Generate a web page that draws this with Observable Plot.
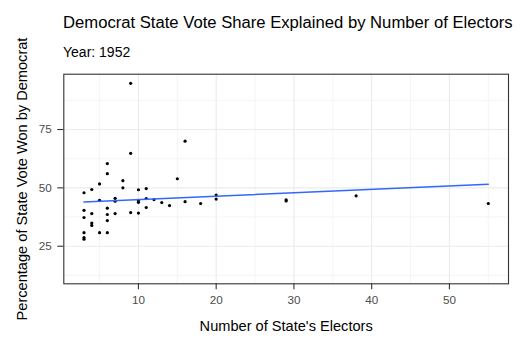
<!DOCTYPE html>
<html>
<head>
<meta charset="utf-8">
<script src="https://cdn.jsdelivr.net/npm/d3@7"></script>
<script src="https://cdn.jsdelivr.net/npm/@observablehq/plot@0.6"></script>
<style>
  html, body { margin: 0; padding: 0; background: #fff; }
  #wrap { position: relative; width: 525px; height: 350px; overflow: hidden; font-family: "Liberation Sans", Arial, sans-serif; }
  .title { position: absolute; left: 63px; top: 13px; font-size: 16.65px; color: #000; white-space: nowrap; line-height: normal; z-index: 2; }
  .subtitle { position: absolute; left: 63px; top: 44px; font-size: 14px; color: #000; white-space: nowrap; line-height: normal; z-index: 2; }
  #chart { position: absolute; left: 0; top: 0; z-index: 1; }
  g[aria-label="x-axis tick"], g[aria-label="y-axis tick"] { stroke: #333333; stroke-width: 1.1px; }
  g[aria-label="x-axis tick label"], g[aria-label="y-axis tick label"] { fill: #4D4D4D; }
</style>
</head>
<body>
<div id="wrap">
  <div id="chart"></div>
  <div class="title">Democrat State Vote Share Explained by Number of Electors</div>
  <div class="subtitle">Year: 1952</div>
</div>
<script>
// Number of electors per state
const electors = [
  3, 3, 3, 3, 3, 3,
  4, 4, 4, 4,
  5, 5, 5,
  6, 6, 6, 6, 6, 6,
  7, 7, 7,
  8, 8,
  9, 9, 9,
  10, 10, 10, 10,
  11, 11, 11,
  12, 13, 14, 15,
  16, 16,
  18,
  20, 20,
  29, 29,
  38, 55
];
// Democrat vote share (%) per state
const demShare = [
  47.9, 40.4, 37.3, 30.8, 28.7, 28.0,
  49.3, 39.0, 34.9, 33.9,
  51.7, 44.7, 30.8,
  60.4, 56.1, 41.3, 38.6, 36.0, 30.8,
  45.5, 44.3, 39.0,
  53.1, 50.0,
  94.8, 64.8, 39.4,
  49.2, 44.6, 43.8, 39.2,
  49.7, 45.4, 41.6,
  45.0, 43.7, 42.4, 53.9,
  70.0, 44.1,
  43.3,
  46.9, 45.2,
  44.9, 44.4,
  46.6, 43.3
];
const xTicks = [10, 20, 30, 40, 50];
const xMinor = [5, 15, 25, 35, 45, 55];
const yTicks = [25, 50, 75];
const yMinor = [12.5, 37.5, 62.5, 87.5];

const data = electors.map((e, i) => ({electors: e, share: demShare[i]}));

const plot = Plot.plot({
  width: 525,
  height: 350,
  marginTop: 73.7,
  marginLeft: 63.3,
  marginRight: 17,
  marginBottom: 66.7,
  style: { fontFamily: "'Liberation Sans', Arial, sans-serif", fontSize: "11.7px", background: "transparent" },
  x: { domain: [0.4, 57.6] },
  y: { domain: [8.9, 98.7] },
  marks: [
    Plot.gridX(xMinor, { stroke: "#EBEBEB", strokeOpacity: 1, strokeWidth: 0.55 }),
    Plot.gridY(yMinor, { stroke: "#EBEBEB", strokeOpacity: 1, strokeWidth: 0.55 }),
    Plot.gridX(xTicks, { stroke: "#EBEBEB", strokeOpacity: 1, strokeWidth: 1.1 }),
    Plot.gridY(yTicks, { stroke: "#EBEBEB", strokeOpacity: 1, strokeWidth: 1.1 }),
    Plot.dot(data, { x: "electors", y: "share", r: 1.6, fill: "#000", stroke: null }),
    Plot.linearRegressionY(data, { x: "electors", y: "share", stroke: "#3366FF", strokeWidth: 1.5, ci: 0 }),
    Plot.frame({ stroke: "#333333", strokeWidth: 1.1 }),
    Plot.axisX(xTicks, { tickSize: 6, tickPadding: 6, label: null }),
    Plot.axisY(yTicks, { tickSize: 6, tickPadding: 6, label: null }),
    Plot.text(["Number of State's Electors"], { frameAnchor: "bottom", dy: 47, fontSize: 14.6, fill: "#000" }),
    Plot.text(["Percentage of State Vote Won by Democrat"], { frameAnchor: "left", textAnchor: "middle", dx: -41.5, rotate: -90, fontSize: 14.6, fill: "#000" })
  ]
});
document.getElementById("chart").appendChild(plot);
</script>
</body>
</html>
